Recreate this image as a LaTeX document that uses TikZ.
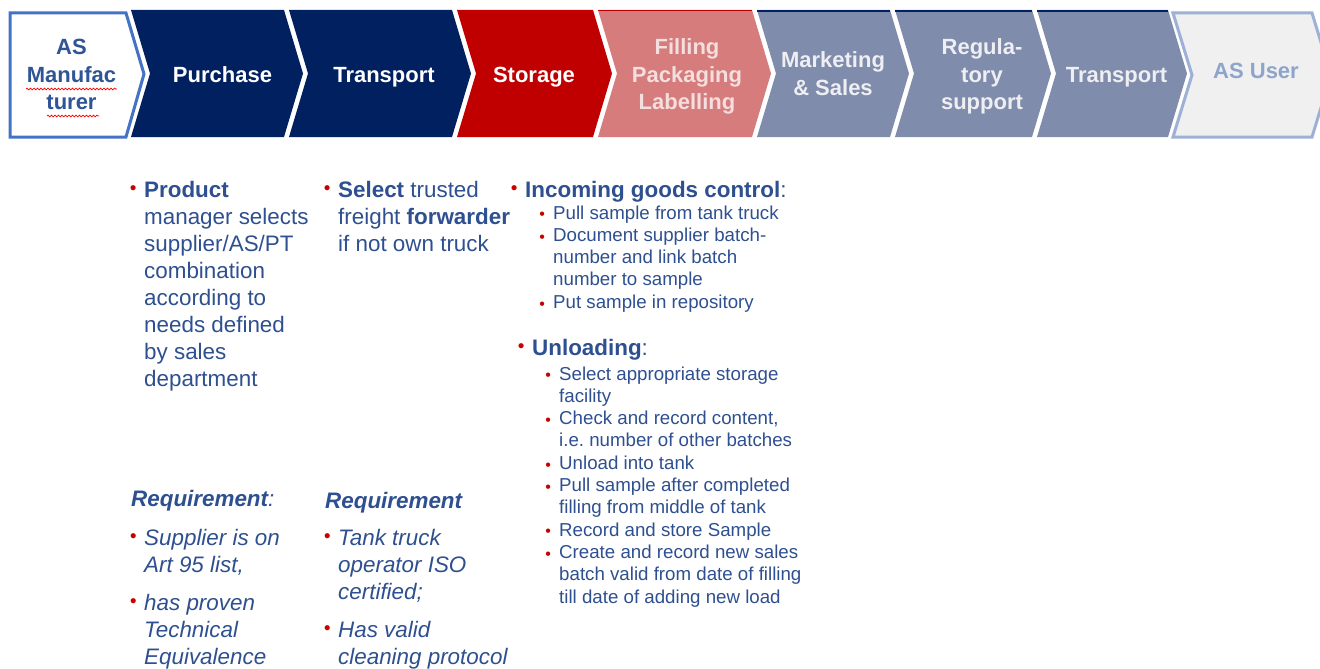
\documentclass[tikz,border=0pt]{standalone}
\usepackage{fontspec}
\setmainfont{Liberation Sans}
\usetikzlibrary{decorations.pathmorphing}
\definecolor{cnavy}{RGB}{0,32,96}
\definecolor{cred}{RGB}{192,0,0}
\definecolor{cpink}{RGB}{214,124,124}
\definecolor{cgray}{RGB}{127,140,172}
\definecolor{cuserfill}{RGB}{240,240,240}
\definecolor{cuserline}{RGB}{157,176,214}
\definecolor{cusertext}{RGB}{143,164,204}
\definecolor{cmanline}{RGB}{68,114,196}
\definecolor{cmantext}{RGB}{47,85,151}
\definecolor{ctxt}{RGB}{46,80,144}
\definecolor{cpinktext}{RGB}{244,222,222}
\definecolor{cgraytext}{RGB}{238,238,243}
\definecolor{cbul}{RGB}{200,0,0}
\frenchspacing
\newcommand\bulA{\llap{\raisebox{2.1pt}{\textcolor{cbul}{\fontsize{19}{19}\selectfont\textbullet}}\hspace{7.7pt}}}
\newcommand\bulB{\llap{\raisebox{-0.8pt}{\textcolor{cbul}{\fontsize{16}{16}\selectfont\textbullet}}\hspace{8.2pt}}}
\newcommand\mychev[4]{\path[#4] (#1,10) -- (#2,10) -- (#2+#3,73.5) -- (#2,137) -- (#1,137) -- (#1+#3,73.5) -- cycle;}
\tikzset{
  chevlabel/.style={anchor=base, inner sep=0pt, font=\fontsize{22}{27.5}\selectfont\bfseries},
  body/.style={anchor=base west, inner sep=0pt, text=ctxt, font=\fontsize{22.4}{27}\selectfont},
  subbody/.style={anchor=base west, inner sep=0pt, text=ctxt, font=\fontsize{18.7}{22.3}\selectfont},
  squig/.style={draw=red, line width=0.7pt, decorate, decoration={snake, amplitude=0.9pt, segment length=3.5pt}},
}
\begin{document}
\begin{tikzpicture}[x=1pt,y=-1pt]
\useasboundingbox (0,0) rectangle (1320,669);
\fill[white] (0,0) rectangle (1320,669);
% chevrons
\path[fill=white, draw=cmanline, line width=3pt] (10,13) -- (126,13) -- (144,74) -- (126,137) -- (10,137) -- cycle;
\mychev{131}{284}{19}{fill=cnavy}
\mychev{289}{452}{19}{fill=cnavy}
\mychev{457}{593}{19}{fill=cred}
\mychev{598}{752}{19}{fill=cpink}
\draw[cred, line width=1.5pt] (598,10.75) -- (752,10.75);
\mychev{757}{890}{19}{fill=cgray}
\mychev{895}{1032}{19}{fill=cgray}
\mychev{1037}{1168}{19}{fill=cgray}
\foreach \a/\b in {757/890,895/1032,1037/1168} \draw[cnavy, line width=2pt] (\a,11) -- (\b,11);
\path[fill=cuserfill, draw=cuserline, line width=3pt] (1173,13) -- (1312,13) -- (1331,75) -- (1312,137) -- (1173,137) -- (1192,75) -- cycle;
% chevron labels
\node[chevlabel, text=cmantext] (asm) at (71.5,55) {\begin{tabular}[t]{@{}c@{}}AS\\Manufac\\turer\end{tabular}};
\draw[squig] (26,89) -- (117,89);
\draw[squig] (47,116) -- (99,116);
\node[chevlabel, text=white] (purch) at (222.5,82) {Purchase};
\node[chevlabel, text=white] (trans) at (384,82) {Transport};
\node[chevlabel, text=white] (stor) at (534,82) {Storage};
\node[chevlabel, text=cpinktext] (fill) at (687,55) {\begin{tabular}[t]{@{}c@{}}Filling\\Packaging\\Labelling\end{tabular}};
\node[chevlabel, text=cgraytext] (mark) at (833,68) {\begin{tabular}[t]{@{}c@{}}Marketing\\\& Sales\end{tabular}};
\node[chevlabel, text=cgraytext] (reg) at (982,55) {\begin{tabular}[t]{@{}c@{}}Regula-\\tory\\support\end{tabular}};
\node[chevlabel, text=cgraytext] (trans2) at (1116.5,82) {Transport};
\node[chevlabel, text=cusertext] (user) at (1256,78) {AS User};
% column 1
\node[body] (prod) at (144,197) {\begin{tabular}[t]{@{}l@{}}\bulA\textbf{Product}\\manager selects\\supplier/AS/PT\\combination\\according to\\needs defined\\by sales\\department\end{tabular}};
% column 2
\node[body] (sel) at (338,197) {\begin{tabular}[t]{@{}l@{}}\bulA\textbf{Select} trusted\\freight \textbf{forwarder}\\if not own truck\end{tabular}};
% column 3
\node[body] (igc) at (525,197) {\bulA\textbf{Incoming goods control}:};
\node[subbody] (igcl) at (553,219) {\begin{tabular}[t]{@{}l@{}}\bulB Pull sample from tank truck\\\bulB Document supplier batch-\\number and link batch\\number to sample\\\bulB Put sample in repository\end{tabular}};
\node[body] (unl) at (532,355) {\bulA\textbf{Unloading}:};
\node[subbody] (unll) at (559,380) {\begin{tabular}[t]{@{}l@{}}\bulB Select appropriate storage\\facility\\\bulB Check and record content,\\i.e. number of other batches\\\bulB Unload into tank\\\bulB Pull sample after completed\\filling from middle of tank\\\bulB Record and store Sample\\\bulB Create and record new sales\\batch valid from date of filling\\till date of adding new load\end{tabular}};
% requirements
\node[body, font=\fontsize{22.4}{27}\selectfont\itshape] (req1) at (131,506) {\textbf{Requirement}:};
\node[body, font=\fontsize{22.4}{27}\selectfont\itshape] (req1l) at (144,545) {\begin{tabular}[t]{@{}l@{}}\bulA Supplier is on\\Art 95 list,\\[11pt]\bulA has proven\\Technical\\Equivalence\end{tabular}};
\node[body, font=\fontsize{22.4}{27}\selectfont\itshape\bfseries] (req2) at (325,508) {Requirement};
\node[body, font=\fontsize{22.4}{27}\selectfont\itshape] (req2l) at (338,545) {\begin{tabular}[t]{@{}l@{}}\bulA Tank truck\\operator ISO\\certified;\\[11pt]\bulA Has valid\\cleaning protocol\end{tabular}};
\end{tikzpicture}
\end{document}
